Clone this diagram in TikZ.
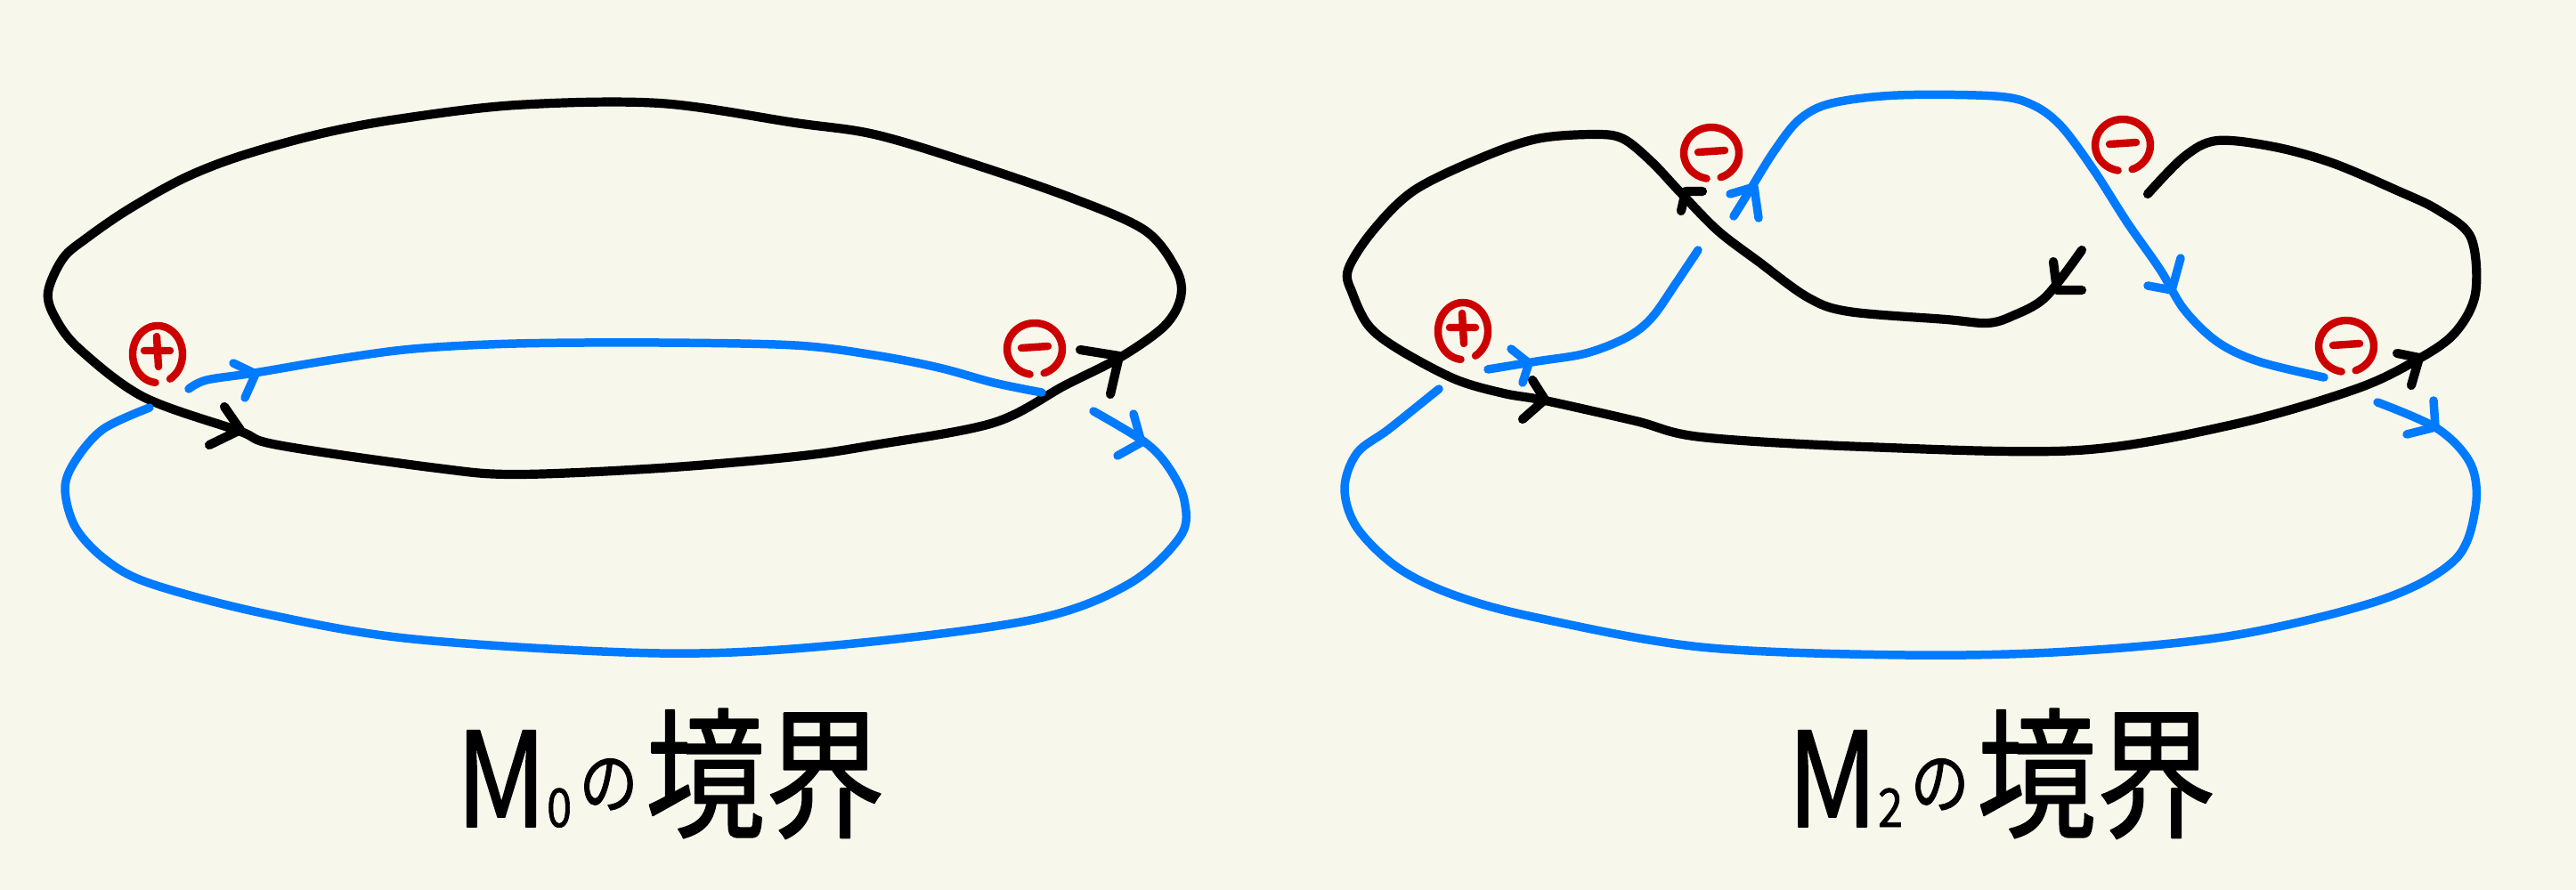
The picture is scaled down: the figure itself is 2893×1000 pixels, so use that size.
\documentclass[tikz,border=0pt]{standalone}
\usepackage{fontspec}
\newfontfamily\cjk[FakeBold=1.2]{Noto Sans CJK JP}
\definecolor{bgcol}{RGB}{248,247,235}
\definecolor{inkblue}{RGB}{0,122,255}
\definecolor{inkred}{RGB}{204,0,0}
\tikzset{
  blackink/.style={draw=black, line width=2.9pt},
  blueink/.style={draw=inkblue, line width=2.7pt},
  redink/.style={draw=inkred, line width=2.4pt},
  curve/.style={smooth, tension=0.55},
  pics/possign/.style={code={
    \draw[redink] plot[domain=95:420,samples=40,smooth] ({28*cos(\x)},{32*sin(\x)});
    \draw[redink] (-15,-4) -- (14,-4) (-1,-20) -- (1,14);
  }},
  pics/negsign/.style={code={
    \draw[redink] plot[domain=100:430,samples=40,smooth] ({31*cos(\x)},{29*sin(\x)});
    \draw[redink] (-15,-1) -- (15,-3);
  }},
  labeltext/.style={anchor=base, inner sep=0pt, font=\cjk},
}
\begin{document}
\begin{tikzpicture}[x=0.01cm,y=-0.01cm, line cap=round, line join=round]
\fill[bgcol] (0,0) rectangle (2893,1000);
\useasboundingbox (0,0) rectangle (2893,1000);

% ================= Left diagram: boundary of M0 =================
% black loop
\draw[blackink] plot[curve, smooth cycle] coordinates {
 (54,328) (71,290) (98,267) (143,236) (205,201) (268,176) (357,151) (446,134)
 (580,118) (741,116) (893,138) (982,151) (1089,183) (1205,223) (1286,259)
 (1321,303) (1326,334) (1308,366) (1259,401) (1196,433) (1116,475) (982,500)
 (893,513) (741,526) (580,533) (491,526) (312,500) (268,484) (161,446)
 (89,392) (62,357)};
% blue upper arc
\draw[blueink] plot[curve] coordinates {
 (212,437) (232,427) (286,419) (375,404) (464,392) (580,386) (741,385)
 (893,388) (982,399) (1054,413) (1116,430) (1170,441)};
% blue lower loop
\draw[blueink] plot[curve] coordinates {
 (1228,462) (1286,497) (1313,526) (1330,562) (1326,602) (1268,656) (1161,696)
 (938,725) (741,734) (464,718) (295,689) (170,656) (120,630) (85,593)
 (73,549) (85,517) (116,482) (168,458)};
% arrowheads
\coordinate (la1) at (270,483);
\coordinate (la2) at (1257,400);
\coordinate (lb1) at (287,420);
\coordinate (lb2) at (1282,497);
\draw[blackink] (252,457) -- (la1) -- (235,500);
\draw[blackink] (1213,393) -- (la2) -- (1247,443);
\draw[blueink] (262,408) -- (lb1) -- (275,447);
\draw[blueink] (1273,465) -- (lb2) -- (1255,512);
% signs
\pic at (177,398) {possign};
\pic at (1162,392) {negsign};

% ================= Right diagram: boundary of M2 =================
\draw[blackink] plot[curve] coordinates {
 (2338,281) (2297,334) (2260,355) (2232,363) (2186,359) (2076,350) (2030,334)
 (1975,294) (1929,259) (1887,216) (1855,182) (1823,156) (1791,151) (1726,156)
 (1662,178) (1588,214) (1542,259) (1514,303) (1519,330) (1537,366) (1570,392)
 (1634,426) (1689,442) (1735,450) (1837,473) (1910,491) (2094,502) (2333,506)
 (2508,477) (2646,437) (2715,404) (2757,374) (2780,330) (2775,267) (2738,236)
 (2692,214) (2619,183) (2554,165) (2490,158) (2453,176) (2412,218)};
% blue left lower piece
\draw[blueink] plot[curve] coordinates {
 (1671,415) (1726,406) (1781,397) (1827,379) (1855,357) (1883,317) (1907,281)};
% blue top piece
\draw[blueink] plot[curve] coordinates {
 (1947,243) (1965,214) (1993,169) (2021,134) (2057,116) (2131,107) (2241,108)
 (2283,118) (2315,142) (2352,192) (2389,250) (2426,303) (2453,348) (2490,384)
 (2536,406) (2610,424)};
% blue bottom loop
\draw[blueink] plot[curve] coordinates {
 (2670,452) (2738,482) (2775,522) (2780,571) (2757,629) (2674,674) (2508,714)
 (2324,732) (2140,736) (1910,727) (1726,694) (1634,669) (1570,638) (1524,593)
 (1510,549) (1524,509) (1560,482) (1616,437)};
% arrowheads
\coordinate (ra1) at (1893,215);
\coordinate (ra2) at (2310,326);
\coordinate (ra3) at (1735,449);
\coordinate (ra4) at (2717,402);
\coordinate (rb1) at (1717,408);
\coordinate (rb2) at (1970,210);
\coordinate (rb3) at (2439,326);
\coordinate (rb4) at (2735,480);
\draw[blackink] (1912,215) -- (ra1) -- (1888,237);
\draw[blackink] (2306,294) -- (ra2) -- (2338,326);
\draw[blackink] (1721,427) -- (ra3) -- (1710,471);
\draw[blackink] (2692,397) -- (ra4) -- (2708,433);
\draw[blueink] (1697,392) -- (rb1) -- (1710,430);
\draw[blueink] (1943,218) -- (rb2) -- (1975,245);
\draw[blueink] (2412,321) -- (rb3) -- (2449,290);
\draw[blueink] (2733,450) -- (rb4) -- (2703,488);
% signs
\pic at (1922,172) {negsign};
\pic at (2384,163) {negsign};
\pic at (1643,372) {possign};
\pic at (2635,389) {negsign};

% ================= Labels =================
\node[labeltext] (labA) at (753,929) {\scalebox{0.85}[1]{\fontsize{42}{42}\selectfont M\fontsize{17}{17}\selectfont 0\,\raisebox{6pt}{\fontsize{22}{22}\selectfont の}\,\fontsize{45}{45}\selectfont 境界}};
\node[labeltext] (labB) at (2248,929) {\scalebox{0.85}[1]{\fontsize{42}{42}\selectfont M\fontsize{17}{17}\selectfont 2\,\raisebox{6pt}{\fontsize{22}{22}\selectfont の}\,\fontsize{45}{45}\selectfont 境界}};
\end{tikzpicture}
\end{document}
